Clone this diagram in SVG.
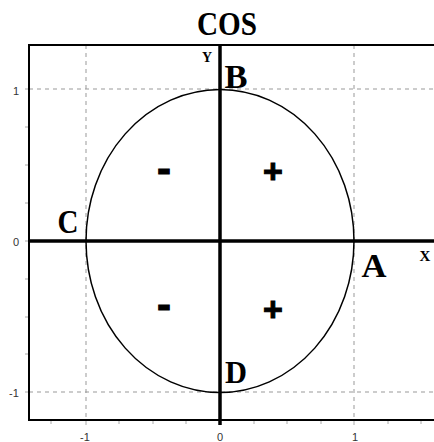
<svg xmlns="http://www.w3.org/2000/svg" width="434" height="442" viewBox="0 0 434 442">
<style>
.grid{stroke:#999;stroke-width:1;stroke-dasharray:4 4;fill:none}
.frame{stroke:#000;stroke-width:2;fill:none}
.axis{stroke:#000;stroke-width:3.5;fill:none}
.tick{stroke:#aaa;stroke-width:1}
.tl{font-family:"Liberation Sans",Arial,sans-serif;font-size:11px;fill:#333}
.big{font-family:"Liberation Serif","Times New Roman",serif;font-weight:bold;fill:#000}
.sign{font-family:"Liberation Sans",Arial,sans-serif;font-weight:bold;fill:#000;text-anchor:middle;stroke:#000;stroke-width:1}
</style>
<rect width="434" height="442" fill="#fff"/>
<g id="grid">
<line class="grid" x1="86" y1="45" x2="86" y2="420"/>
<line class="grid" x1="354" y1="45" x2="354" y2="420"/>
<line class="grid" x1="29" y1="89" x2="434" y2="89"/>
<line class="grid" x1="29" y1="392" x2="434" y2="392"/>
</g>
<g id="ticks">
<line class="tick" x1="51" y1="420" x2="51" y2="424"/>
<line class="tick" x1="86" y1="420" x2="86" y2="425"/>
<line class="tick" x1="119" y1="420" x2="119" y2="424"/>
<line class="tick" x1="153" y1="420" x2="153" y2="424"/>
<line class="tick" x1="186" y1="420" x2="186" y2="424"/>
<line class="tick" x1="254" y1="420" x2="254" y2="424"/>
<line class="tick" x1="287" y1="420" x2="287" y2="424"/>
<line class="tick" x1="321" y1="420" x2="321" y2="424"/>
<line class="tick" x1="354" y1="420" x2="354" y2="425"/>
<line class="tick" x1="388" y1="420" x2="388" y2="424"/>
<line class="tick" x1="421" y1="420" x2="421" y2="424"/>
<line class="tick" x1="25" y1="89" x2="29" y2="89"/>
<line class="tick" x1="25" y1="127" x2="29" y2="127"/>
<line class="tick" x1="25" y1="165" x2="29" y2="165"/>
<line class="tick" x1="25" y1="203" x2="29" y2="203"/>
<line class="tick" x1="25" y1="241" x2="29" y2="241"/>
<line class="tick" x1="25" y1="279" x2="29" y2="279"/>
<line class="tick" x1="25" y1="317" x2="29" y2="317"/>
<line class="tick" x1="25" y1="354" x2="29" y2="354"/>
<line class="tick" x1="25" y1="392" x2="29" y2="392"/>
</g>
<g id="frame">
<path class="frame" d="M434 45 H29 V420 H434"/>
</g>
<g id="circle">
<ellipse cx="220" cy="241" rx="134" ry="151.5" fill="none" stroke="#000" stroke-width="1.5"/>
</g>
<g id="axes">
<line class="axis" x1="29" y1="241" x2="434" y2="241"/>
<line class="axis" x1="220" y1="45" x2="220" y2="425"/>
</g>
<g id="tick-labels">
<text class="tl" x="16" y="95" text-anchor="middle">1</text>
<text class="tl" x="16" y="246" text-anchor="middle">0</text>
<text class="tl" x="14" y="397" text-anchor="middle">-1</text>
<text class="tl" x="85" y="441" text-anchor="middle">-1</text>
<text class="tl" x="220" y="441" text-anchor="middle">0</text>
<text class="tl" x="355" y="441" text-anchor="middle">1</text>
</g>
<g id="title">
<text class="big" x="227" y="35" font-size="34" text-anchor="middle" textLength="60" lengthAdjust="spacingAndGlyphs">COS</text>
</g>
<g id="label-Y"><text class="big" x="207" y="62" font-size="14" text-anchor="middle">Y</text></g>
<g id="label-X"><text class="big" x="425" y="261" font-size="15" text-anchor="middle">X</text></g>
<g id="point-B"><text class="big" x="236" y="88" font-size="33" text-anchor="middle" textLength="23" lengthAdjust="spacingAndGlyphs">B</text></g>
<g id="point-C"><text class="big" x="68" y="233" font-size="34" text-anchor="middle" textLength="21" lengthAdjust="spacingAndGlyphs">C</text></g>
<g id="point-A"><text class="big" x="374" y="277" font-size="34" text-anchor="middle" textLength="25" lengthAdjust="spacingAndGlyphs">A</text></g>
<g id="point-D"><text class="big" x="236" y="383" font-size="31" text-anchor="middle" textLength="22" lengthAdjust="spacingAndGlyphs">D</text></g>
<g id="signs">
<text class="sign" x="164" y="183" font-size="42">-</text>
<text class="sign" x="273" y="183" font-size="34">+</text>
<text class="sign" x="164" y="319" font-size="42">-</text>
<text class="sign" x="273" y="321" font-size="34">+</text>
</g>
</svg>
